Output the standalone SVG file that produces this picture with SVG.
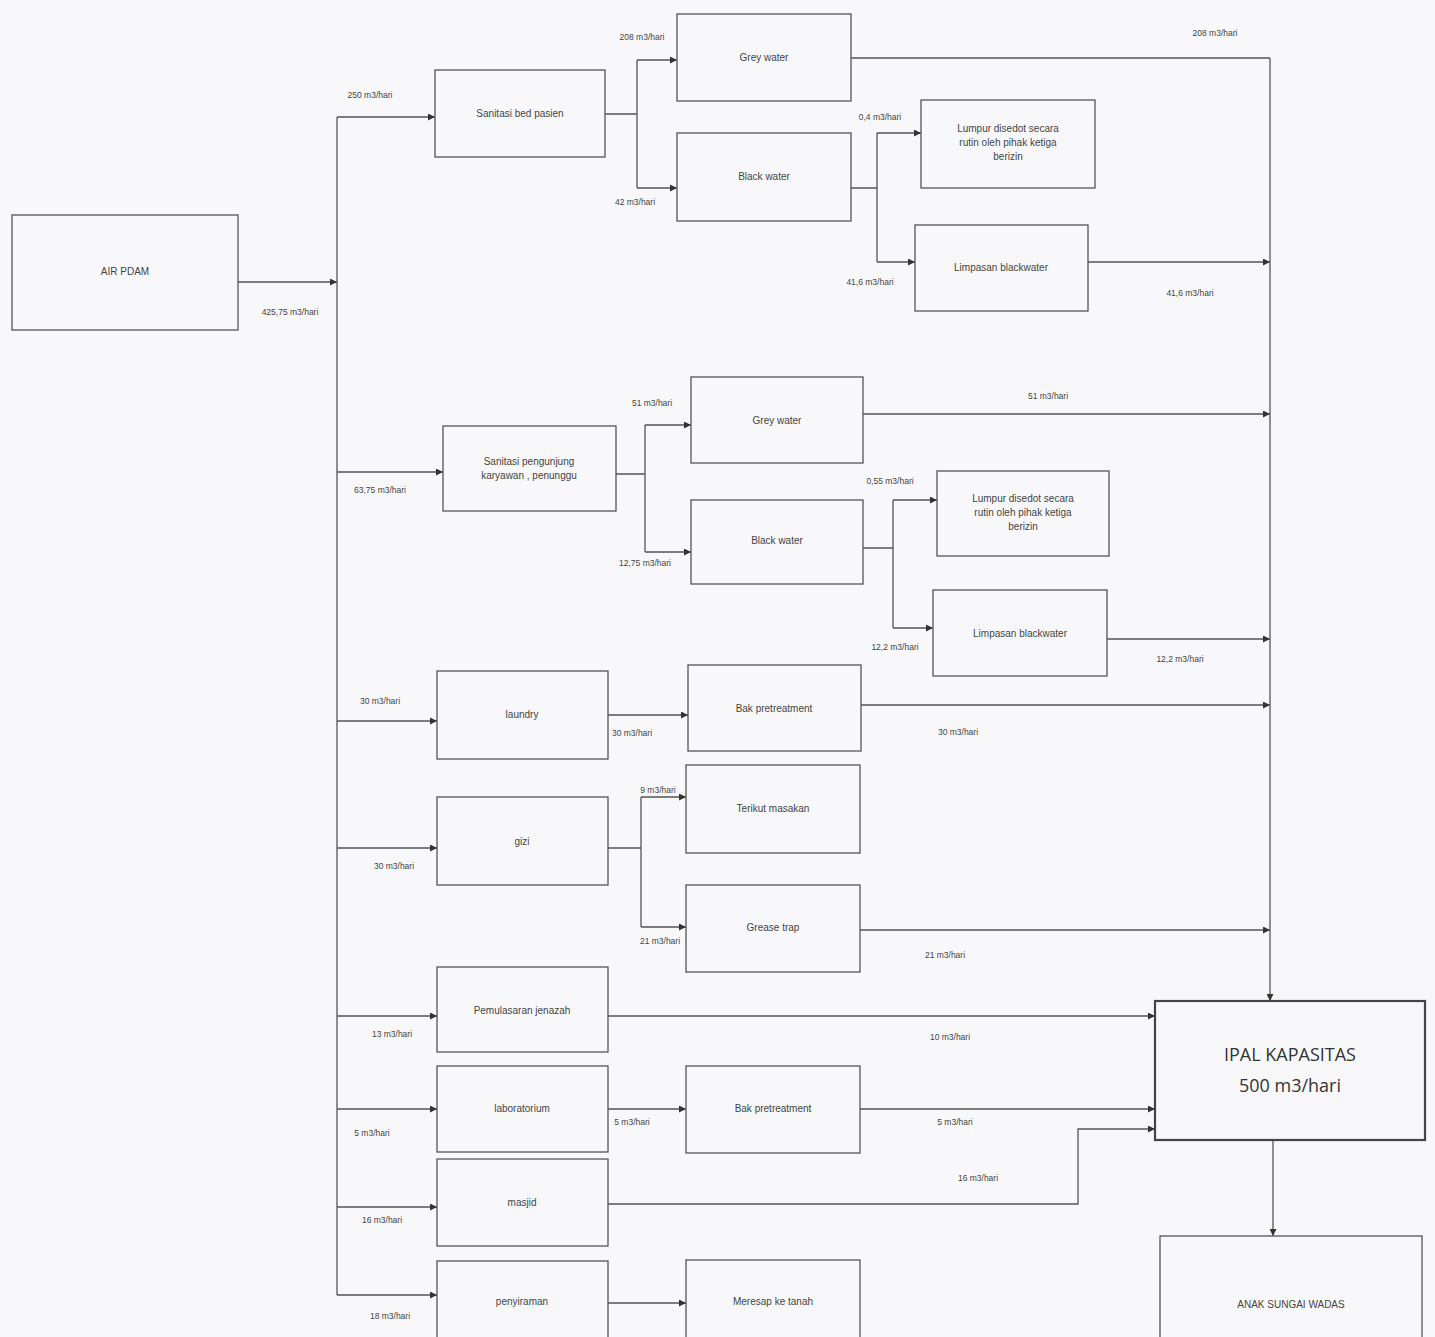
<svg xmlns="http://www.w3.org/2000/svg" width="1435" height="1337" viewBox="0 0 1435 1337">
<defs>
<marker id="ah" viewBox="0 0 10 10" refX="10" refY="5" markerWidth="9" markerHeight="7" markerUnits="userSpaceOnUse" orient="auto">
<path d="M0,0 L10,5 L0,10 z" fill="#333"/>
</marker>
<style>
.bx{fill:none;stroke:#555;stroke-width:1.3}
.bb{fill:none;stroke:#444;stroke-width:2.2}
.ln{fill:none;stroke:#555;stroke-width:1.3}
.ar{fill:none;stroke:#555;stroke-width:1.3;marker-end:url(#ah)}
.t{font-family:"Liberation Sans",Arial,sans-serif;font-size:10px;fill:#444;text-anchor:middle}
.l{font-family:"Liberation Sans",Arial,sans-serif;font-size:8.5px;fill:#444;text-anchor:middle}
.big{font-family:"Open Sans","Noto Sans",sans-serif;font-size:18px;fill:#333;text-anchor:middle}
</style>
</defs>
<rect width="1435" height="1337" fill="#f8f8fa"/>

<g id="connectors">
<!-- source to main bus -->
<path class="ar" d="M238,282 H337"/>
<path class="ln" d="M337,117 V1295"/>
<!-- bus branches -->
<path class="ar" d="M337,117 H435"/>
<path class="ar" d="M337,472 H443"/>
<path class="ar" d="M337,721 H437"/>
<path class="ar" d="M337,848 H437"/>
<path class="ar" d="M337,1016 H437"/>
<path class="ar" d="M337,1109 H437"/>
<path class="ar" d="M337,1207 H437"/>
<path class="ar" d="M337,1295 H437"/>
<!-- group 1 -->
<path class="ln" d="M605,114 H637 M637,60 V188"/>
<path class="ar" d="M637,60 H677"/>
<path class="ar" d="M637,188 H677"/>
<path class="ln" d="M851,58 H1270"/>
<path class="ln" d="M851,188 H877 M877,133 V262"/>
<path class="ar" d="M877,133 H921"/>
<path class="ar" d="M877,262 H915"/>
<path class="ar" d="M1088,262 H1270"/>
<!-- group 2 -->
<path class="ln" d="M616,474 H645 M645,425 V552"/>
<path class="ar" d="M645,425 H691"/>
<path class="ar" d="M645,552 H691"/>
<path class="ar" d="M863,414 H1270"/>
<path class="ln" d="M863,548 H893 M893,500 V628"/>
<path class="ar" d="M893,500 H937"/>
<path class="ar" d="M893,628 H933"/>
<path class="ar" d="M1107,639 H1270"/>
<!-- laundry -->
<path class="ar" d="M608,715 H688"/>
<path class="ar" d="M861,705 H1270"/>
<!-- gizi -->
<path class="ln" d="M608,848 H641 M641,797 V927"/>
<path class="ar" d="M641,797 H686"/>
<path class="ar" d="M641,927 H686"/>
<path class="ar" d="M860,930 H1270"/>
<!-- right collector to IPAL -->
<path class="ar" d="M1270,58 V1001"/>
<!-- pemulasaran -->
<path class="ar" d="M608,1016 H1155"/>
<!-- laboratorium -->
<path class="ar" d="M608,1109 H686"/>
<path class="ar" d="M860,1109 H1155"/>
<!-- masjid -->
<path class="ar" d="M608,1204 H1078 V1129 H1155"/>
<!-- penyiraman -->
<path class="ar" d="M608,1303 H686"/>
<!-- IPAL to river -->
<path class="ar" d="M1273,1140 V1236"/>
</g>

<g id="labels">
<text class="l" x="290" y="315">425,75 m3/hari</text>
<text class="l" x="370" y="98">250 m3/hari</text>
<text class="l" x="642" y="40">208 m3/hari</text>
<text class="l" x="635" y="205">42 m3/hari</text>
<text class="l" x="1215" y="36">208 m3/hari</text>
<text class="l" x="880" y="120">0,4 m3/hari</text>
<text class="l" x="870" y="285">41,6 m3/hari</text>
<text class="l" x="1190" y="296">41,6 m3/hari</text>
<text class="l" x="380" y="493">63,75 m3/hari</text>
<text class="l" x="652" y="406">51 m3/hari</text>
<text class="l" x="645" y="566">12,75 m3/hari</text>
<text class="l" x="1048" y="399">51 m3/hari</text>
<text class="l" x="890" y="484">0,55 m3/hari</text>
<text class="l" x="895" y="650">12,2 m3/hari</text>
<text class="l" x="1180" y="662">12,2 m3/hari</text>
<text class="l" x="380" y="704">30 m3/hari</text>
<text class="l" x="632" y="736">30 m3/hari</text>
<text class="l" x="958" y="735">30 m3/hari</text>
<text class="l" x="394" y="869">30 m3/hari</text>
<text class="l" x="658" y="793">9 m3/hari</text>
<text class="l" x="660" y="944">21 m3/hari</text>
<text class="l" x="945" y="958">21 m3/hari</text>
<text class="l" x="392" y="1037">13 m3/hari</text>
<text class="l" x="950" y="1040">10 m3/hari</text>
<text class="l" x="372" y="1136">5 m3/hari</text>
<text class="l" x="632" y="1125">5 m3/hari</text>
<text class="l" x="955" y="1125">5 m3/hari</text>
<text class="l" x="382" y="1223">16 m3/hari</text>
<text class="l" x="978" y="1181">16 m3/hari</text>
<text class="l" x="390" y="1319">18 m3/hari</text>
</g>

<g id="n-airpdam"><rect class="bx" x="12" y="215" width="226" height="115"/><text class="t" x="125" y="275">AIR PDAM</text></g>
<g id="n-sanbed"><rect class="bx" x="435" y="70" width="170" height="87"/><text class="t" x="520" y="117">Sanitasi bed pasien</text></g>
<g id="n-grey1"><rect class="bx" x="677" y="14" width="174" height="87"/><text class="t" x="764" y="61">Grey water</text></g>
<g id="n-black1"><rect class="bx" x="677" y="133" width="174" height="88"/><text class="t" x="764" y="180">Black water</text></g>
<g id="n-lumpur1"><rect class="bx" x="921" y="100" width="174" height="88"/><text class="t" x="1008" y="132">Lumpur disedot secara</text><text class="t" x="1008" y="146">rutin oleh pihak ketiga</text><text class="t" x="1008" y="160">berizin</text></g>
<g id="n-limpasan1"><rect class="bx" x="915" y="225" width="173" height="86"/><text class="t" x="1001" y="271">Limpasan blackwater</text></g>

<g id="n-sanpeng"><rect class="bx" x="443" y="426" width="173" height="85"/><text class="t" x="529" y="465">Sanitasi pengunjung</text><text class="t" x="529" y="479">karyawan , penunggu</text></g>
<g id="n-grey2"><rect class="bx" x="691" y="377" width="172" height="86"/><text class="t" x="777" y="424">Grey water</text></g>
<g id="n-black2"><rect class="bx" x="691" y="500" width="172" height="84"/><text class="t" x="777" y="544">Black water</text></g>
<g id="n-lumpur2"><rect class="bx" x="937" y="471" width="172" height="85"/><text class="t" x="1023" y="502">Lumpur disedot secara</text><text class="t" x="1023" y="516">rutin oleh pihak ketiga</text><text class="t" x="1023" y="530">berizin</text></g>
<g id="n-limpasan2"><rect class="bx" x="933" y="590" width="174" height="86"/><text class="t" x="1020" y="637">Limpasan blackwater</text></g>

<g id="n-laundry"><rect class="bx" x="437" y="671" width="171" height="88"/><text class="t" x="522" y="718">laundry</text></g>
<g id="n-bak1"><rect class="bx" x="688" y="665" width="173" height="86"/><text class="t" x="774" y="712">Bak pretreatment</text></g>
<g id="n-gizi"><rect class="bx" x="437" y="797" width="171" height="88"/><text class="t" x="522" y="845">gizi</text></g>
<g id="n-terikut"><rect class="bx" x="686" y="765" width="174" height="88"/><text class="t" x="773" y="812">Terikut masakan</text></g>
<g id="n-grease"><rect class="bx" x="686" y="885" width="174" height="87"/><text class="t" x="773" y="931">Grease trap</text></g>
<g id="n-pemulasaran"><rect class="bx" x="437" y="967" width="171" height="85"/><text class="t" x="522" y="1014">Pemulasaran jenazah</text></g>
<g id="n-lab"><rect class="bx" x="437" y="1066" width="171" height="86"/><text class="t" x="522" y="1112">laboratorium</text></g>
<g id="n-bak2"><rect class="bx" x="686" y="1066" width="174" height="87"/><text class="t" x="773" y="1112">Bak pretreatment</text></g>
<g id="n-masjid"><rect class="bx" x="437" y="1159" width="171" height="87"/><text class="t" x="522" y="1206">masjid</text></g>
<g id="n-penyiraman"><rect class="bx" x="437" y="1261" width="171" height="90"/><text class="t" x="522" y="1305">penyiraman</text></g>
<g id="n-meresap"><rect class="bx" x="686" y="1260" width="174" height="90"/><text class="t" x="773" y="1305">Meresap ke tanah</text></g>

<g id="n-ipal"><rect class="bb" x="1155" y="1001" width="270" height="139"/><text class="big" x="1290" y="1061">IPAL KAPASITAS</text><text class="big" x="1290" y="1092">500 m3/hari</text></g>
<g id="n-sungai"><rect class="bx" x="1160" y="1236" width="262" height="115"/><text class="t" x="1291" y="1308">ANAK SUNGAI WADAS</text></g>
</svg>
